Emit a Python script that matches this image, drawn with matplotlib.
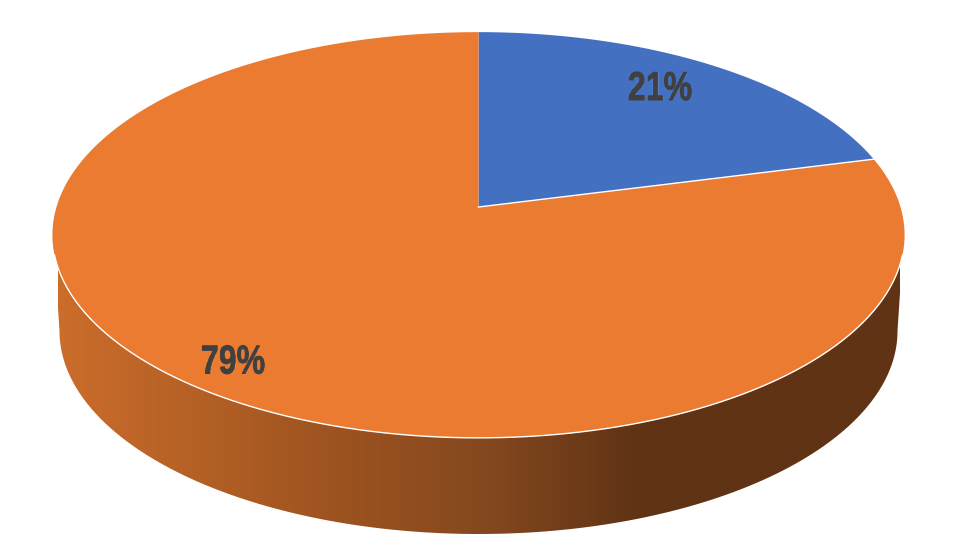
import numpy as np
import matplotlib
matplotlib.use("Agg")
from matplotlib import pyplot as plt
from matplotlib import patheffects
from matplotlib.colors import LinearSegmentedColormap
from matplotlib.patches import Polygon

shares = [21, 79]
labels = ["21%", "79%"]
colors = ["#4370C1", "#EA7B30"]

# side wall colours, left to right
wall_stops = [0.0, 0.33, 0.51, 0.69, 1.0]
wall_colors = ["#CB6D2B", "#9D5320", "#84481F", "#5F3314", "#5F3314"]

# pie geometry in pixels, tilted like a perspective view
cx, cy = 478.5, 207
rx, ry = 422, 199
persp = 0.138
depth_cy, depth_rx, depth_ry = 331, 419, 203
wall_from, wall_to = np.radians(103.5), np.radians(256.5)


def project(theta):
    # theta clockwise from the top of the pie
    px = np.sin(theta)
    py = np.cos(theta)
    d = 1 + persp * py
    return cx + rx * px / d, cy - ry * py / d


def squeeze(img, dpi):
    # no narrow bold font here, so squash the drawn label sideways
    h, w, n = img.shape
    new_w = int(w * 0.81)
    xs = np.linspace(0, w - 1, new_w)
    out = np.zeros((h, new_w, n))
    for row in range(h):
        for c in range(n):
            out[row, :, c] = np.interp(xs, np.arange(w), img[row, :, c])
    return out, (w - new_w) // 2, 0


fig = plt.figure(figsize=(9.59, 5.59), dpi=100)
ax = fig.add_axes([0, 0, 1, 1])

# side wall: front arc of the top face plus front arc of the bottom face
t = np.linspace(wall_from, wall_to, 300)
tx, ty = project(t)
b = np.linspace(np.pi, 0, 300)
bx = cx + depth_rx * np.cos(b)
by = depth_cy + depth_ry * np.sin(b)
wall = Polygon(np.column_stack([np.r_[tx, bx], np.r_[ty, by]]),
               closed=True, fc="none", ec="none", transform=ax.transData)
ax.add_patch(wall)

cmap = LinearSegmentedColormap.from_list("wall", list(zip(wall_stops, wall_colors)))
grad = np.linspace(0, 1, 512).reshape(1, -1)
im = ax.imshow(grad, cmap=cmap, extent=[58, 900, 540, 230], aspect="auto", zorder=1)
im.set_clip_path(wall)
ax.set_xlim(0, 959)
ax.set_ylim(559, 0)
ax.axis("off")

# top face slices
start = 0.0
for share, color in zip(shares, colors):
    end = start + share / sum(shares) * 2 * np.pi
    a = np.linspace(start, end, 400)
    x, y = project(a)
    ax.fill(np.r_[cx, x], np.r_[cy, y], fc=color, ec="none", zorder=2)
    start = end

# thin white edges
ex, ey = project(t)
ax.plot(ex, ey, color="white", lw=1.0, zorder=3)
bound = shares[0] / sum(shares) * 2 * np.pi
ex, ey = project(np.array([bound]))
ax.plot([cx, ex[0]], [cy, ey[0]], color="white", lw=1.0, zorder=3)

label_pos = [(660, 89), (233, 362.5)]
for txt, (lx, ly) in zip(labels, label_pos):
    tt = ax.text(lx, ly, txt, ha="center", va="center", fontsize=29, fontweight="bold",
                 color="#404040", family="Liberation Sans", zorder=4,
                 path_effects=[patheffects.withStroke(linewidth=0.7, foreground="#404040")])
    tt.set_agg_filter(squeeze)

fig.savefig("out.png", dpi=100)
